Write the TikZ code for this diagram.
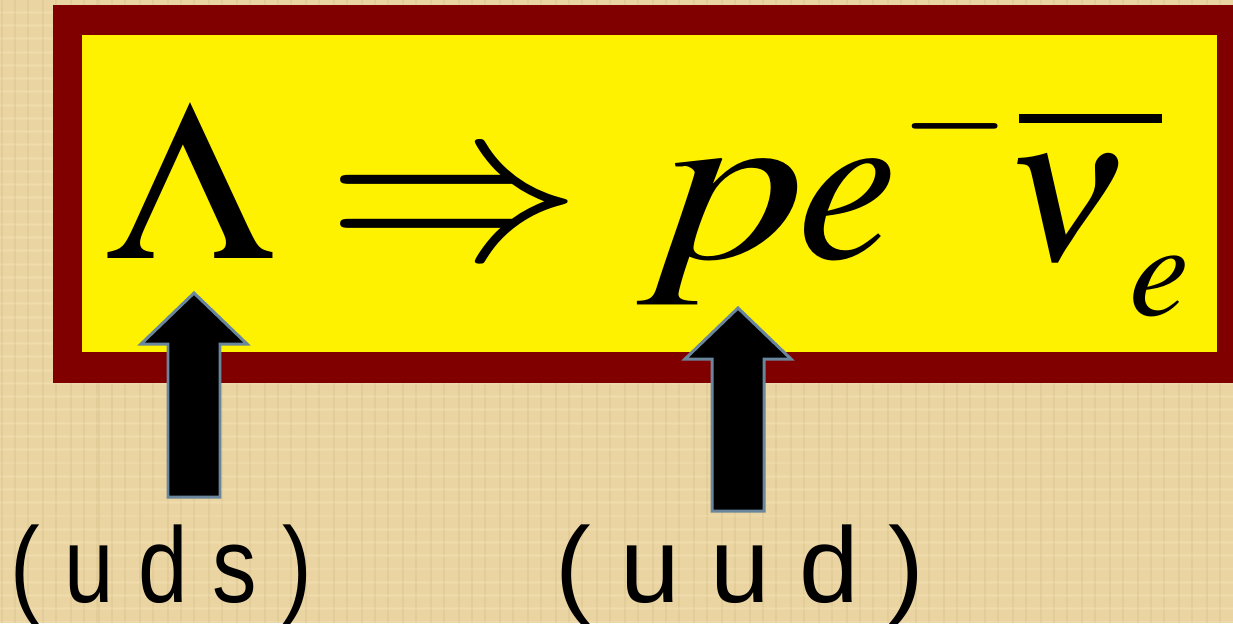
\documentclass[tikz,border=0pt]{standalone}
\usepackage{mathptmx}
\usepackage{fontspec}
\setmainfont{Liberation Serif}
\newfontfamily\labelfont{Liberation Sans}
\usepackage{graphicx}
\definecolor{parchment}{RGB}{234,213,162}
\definecolor{parchmentdark}{RGB}{210,186,130}
\definecolor{parchmentlight}{RGB}{244,226,182}
\definecolor{framered}{RGB}{128,0,0}
\definecolor{arrowgray}{RGB}{106,134,156}

\begin{document}
\begin{tikzpicture}[
  x=0.02cm, y=-0.02cm,
  formula/.style={anchor=base, inner sep=0pt, font=\fontsize{129}{129}\selectfont},
  quark/.style={anchor=base, inner sep=0pt, font=\labelfont\fontsize{61}{61}\selectfont},
  blockarrow/.style={fill=black, draw=arrowgray, line width=1.7pt},
  fibre/.style={line width=0.8pt, opacity=0.3},
]
  \clip (0,0) rectangle (1233,623);
  \fill[parchment] (0,0) rectangle (1233,623);
  % papyrus streaks
  \foreach \i in {1,...,90} {
    \pgfmathsetmacro\fx{mod(\i*97,1233)}
    \pgfmathsetmacro\fy{mod(\i*53,623)}
    \draw[fibre, parchmentdark] (\fx,0) -- (\fx,623);
    \draw[fibre, parchmentlight] (0,\fy) -- (1233,\fy);
  }
  \fill[framered] (53,5) rectangle (1250,383);
  \fill[yellow] (82,35) rectangle (1217,352);

  \node[formula] (lambda) at (190,258) {\scalebox{1.08}[1]{$\Lambda$}};
  \node[formula] (implies) at (455,258) {\scalebox{1.13}[1]{$\Rightarrow$}};
  \node[formula] (proton) at (722,258) {\scalebox{1.3}[1]{$p$}};
  \node[formula] (electron) at (848,258) {$e$};
  \node[formula, font=\fontsize{80}{80}\selectfont] (minus) at (955,161) {$-$};
  \node[formula, font=\fontsize{119}{119}\selectfont] (nu) at (1067,260) {$\nu$};
  \node[formula, font=\fontsize{77}{77}\selectfont] (nusub) at (1160,315) {$e$};
  \draw[line width=0.18cm] (1019,118) -- (1162,118);

  \foreach \x/\tip/\base in {194/293/497, 738/308/511} {
    \draw[blockarrow] (\x,\tip) -- ++(53,51) -- ++(-27,0) -- (\x+26,\base)
      -- (\x-26,\base) -- (\x-26,\tip+51) -- ++(-27,0) -- cycle;
  }

  \node[quark] (uds) at (161,602) {\scalebox{0.83}[1]{( u d s )}};
  \node[quark] (uud) at (740,602) {( u u d )};
\end{tikzpicture}
\end{document}
